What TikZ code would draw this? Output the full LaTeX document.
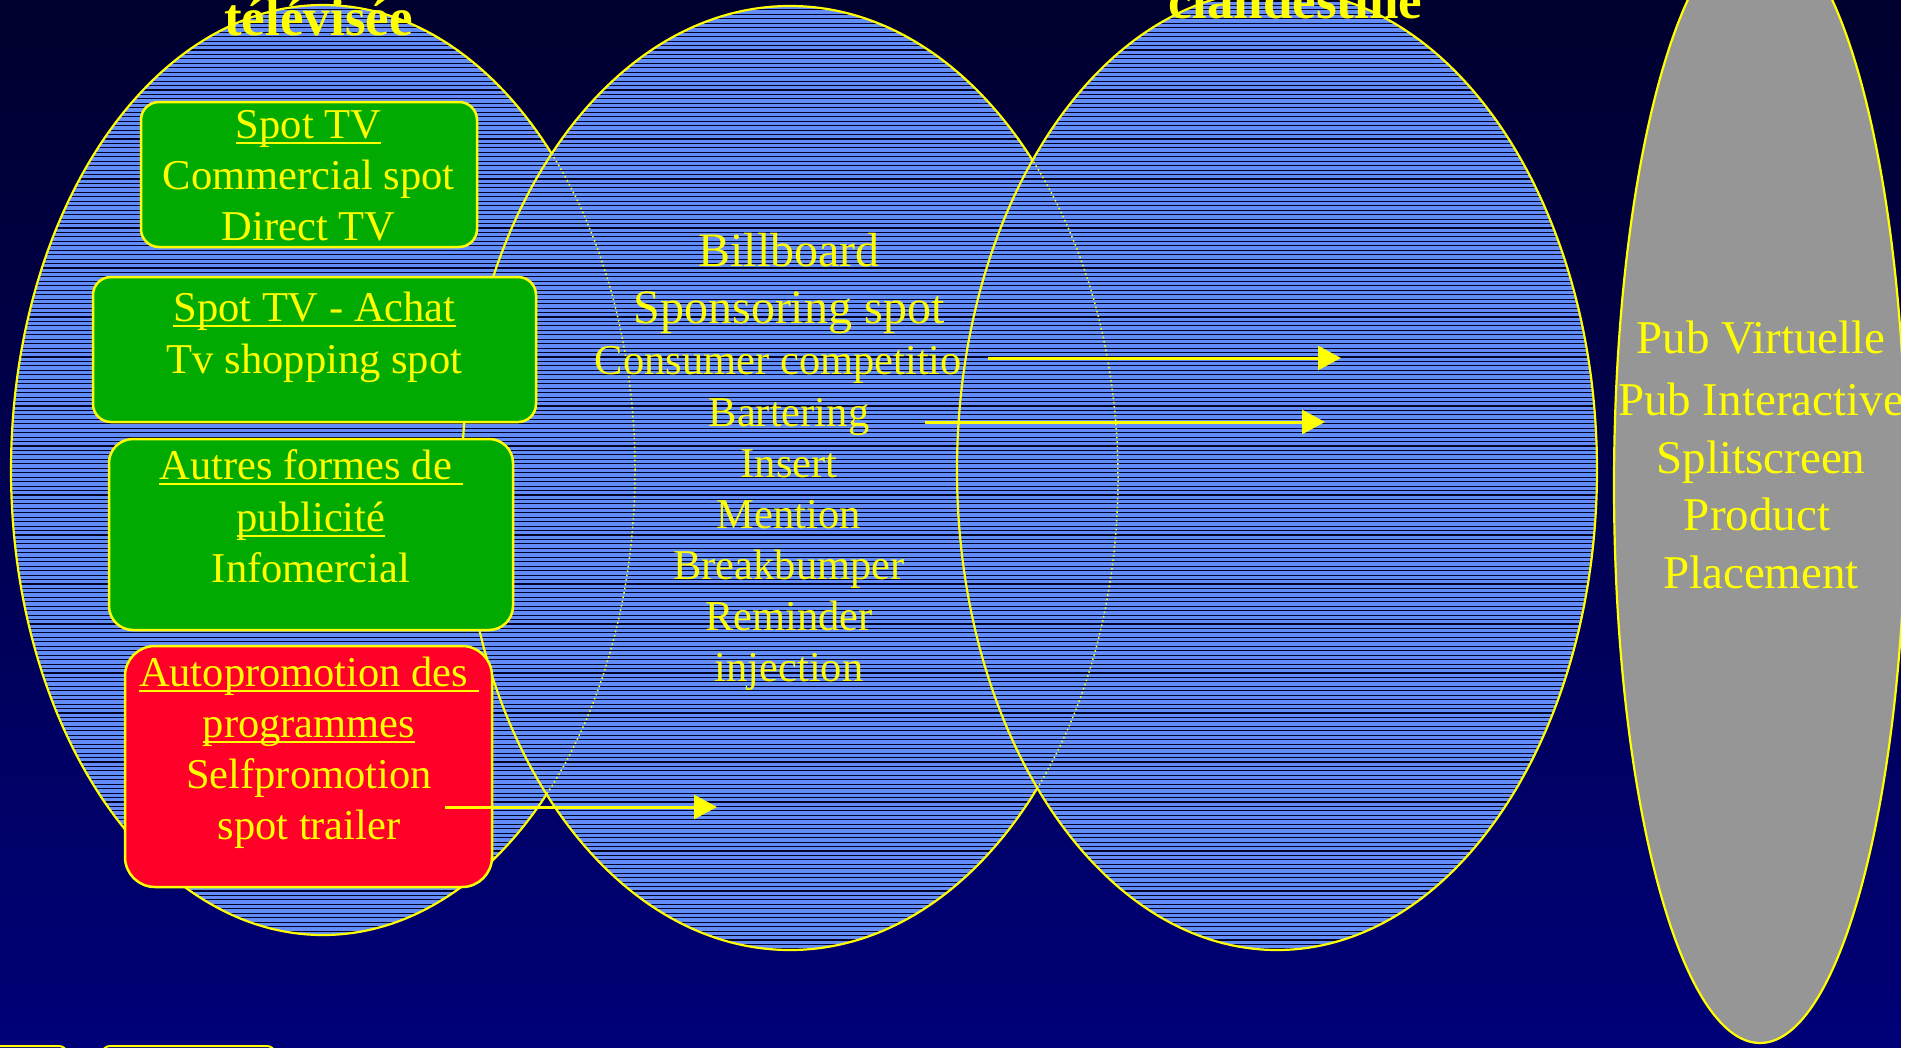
\documentclass[tikz,border=0pt]{standalone}
\usepackage{fontspec}
\setmainfont{Liberation Serif}
\usetikzlibrary{arrows.meta}
\definecolor{bgtop}{RGB}{0,0,46}
\definecolor{bgbot}{RGB}{0,0,120}
\definecolor{hblue}{RGB}{98,140,250}
\definecolor{hline}{RGB}{0,0,40}
\definecolor{ylw}{RGB}{255,255,0}
\definecolor{bgreen}{RGB}{0,170,0}
\definecolor{bred}{RGB}{255,0,40}
\definecolor{pgray}{RGB}{150,150,150}

\newcommand\ulx[1]{\setbox0=\hbox{#1}\rlap{\rule[-5.5pt]{\wd0}{2pt}}\box0}

\newcommand\hatchfill[4]{%
  \fill[hblue] (#1,#2) ellipse [x radius=#3pt, y radius=#4pt];
  \begin{scope}
    \clip (#1,#2) ellipse [x radius=#3pt, y radius=#4pt];
    \foreach \k in {0,...,235} {\draw[hl] ({#1-#3},{\k*4.45+1}) -- ({#1+#3},{\k*4.45+1});}
  \end{scope}}

\tikzset{
  outl/.style={draw=ylw, line width=2.2pt},
  dotl/.style={draw=ylw, line width=1.5pt, dash pattern=on 1.6pt off 2.8pt},
  hl/.style={draw=hline, line width=1.1pt},
  greenbox/.style={rectangle, draw=ylw, line width=2.5pt, fill=bgreen, inner sep=0pt},
  redbox/.style={greenbox, fill=bred},
  sliver/.style={rectangle, draw=ylw, line width=2pt, rounded corners=8pt, inner sep=0pt},
  txt/.style={text=ylw, inner sep=0pt, anchor=base, font=\fontsize{42.5}{51}\selectfont},
  bigtxt/.style={txt, font=\fontsize{48}{57}\selectfont},
  gtxt/.style={txt, font=\fontsize{47}{57}\selectfont},
  ttl/.style={txt, font=\fontsize{53}{60}\selectfont\bfseries},
  arr/.style={draw=ylw, line width=3pt, -{Triangle[length=23pt,width=24pt]}},
}

\begin{document}
\begin{tikzpicture}[x=1pt,y=-1pt]
\useasboundingbox (0,0) rectangle (1914,1047);
\shade[top color=bgtop, bottom color=bgbot] (0,0) rectangle (1914,1047);

% ellipse 1
\hatchfill{323}{470}{312}{465}
\draw[outl] (323,470) ellipse [x radius=312pt, y radius=465pt];
% ellipse 2
\hatchfill{790}{478}{328}{472}
\begin{scope}
  \clip (790,478) ellipse [x radius=328pt, y radius=472pt];
  \draw[dotl] (323,470) ellipse [x radius=312pt, y radius=465pt];
\end{scope}
\draw[outl] (790,478) ellipse [x radius=328pt, y radius=472pt];
% ellipse 3
\hatchfill{1277}{470}{320}{480}
\begin{scope}
  \clip (1277,470) ellipse [x radius=320pt, y radius=480pt];
  \draw[dotl] (790,478) ellipse [x radius=328pt, y radius=472pt];
\end{scope}
\draw[outl] (1277,470) ellipse [x radius=320pt, y radius=480pt];
% gray ellipse
\filldraw[fill=pgray, outl] (1760,485) ellipse [x radius=146pt, y radius=558pt];

% boxes
\node[greenbox, rounded corners=18pt, minimum width=336pt, minimum height=145pt] (boxA) at (309,174.5) {};
\node[greenbox, rounded corners=18pt, minimum width=443pt, minimum height=145pt] (boxB) at (314.5,349.5) {};
\node[greenbox, rounded corners=24pt, minimum width=404pt, minimum height=191pt] (boxC) at (311,534.5) {};
\node[redbox, rounded corners=30pt, minimum width=367pt, minimum height=241pt] (boxD) at (308.5,766.5) {};

\node[txt] (a1) at (308.5,138) {\ulx{Spot TV}};
\node[txt] (a2) at (308.5,189) {Commercial spot};
\node[txt] (a3) at (308.5,240) {Direct TV};

\node[txt] (b1) at (314.5,321) {\ulx{Spot TV - Achat}};
\node[txt] (b2) at (314.5,373) {Tv shopping spot};

\node[txt] (c1) at (311,479) {\ulx{Autres formes de\ }};
\node[txt] (c2) at (311,531) {\ulx{publicité}};
\node[txt] (c3) at (311,582) {Infomercial};

\node[txt] (d1) at (309,686) {\ulx{Autopromotion des\ }};
\node[txt] (d2) at (309,737) {\ulx{programmes}};
\node[txt] (d3) at (309,788) {Selfpromotion};
\node[txt] (d4) at (309,839) {spot trailer};

% centre column
\node[bigtxt] (m1) at (789,266) {Billboard};
\node[bigtxt] (m2) at (789,323) {Sponsoring spot};
\node[txt] (m3) at (789,374) {Consumer competitio\phantom{n}};
\node[txt] (m4) at (789,426) {Bartering};
\node[txt] (m5) at (789,477) {Insert};
\node[txt] (m6) at (789,528) {Mention};
\node[txt] (m7) at (789,579) {Breakbumper};
\node[txt] (m8) at (789,630) {Reminder};
\node[txt] (m9) at (789,681) {injection};

% gray ellipse text
\node[gtxt] (g1) at (1761,353) {Pub\ Virtuelle};
\node[gtxt] (g2) at (1761,415) {Pub Interactive};
\node[gtxt] (g3) at (1761,473) {Splitscreen};
\node[gtxt] (g4) at (1757,530) {Product};
\node[gtxt] (g5) at (1761,588) {Placement};

% arrows
\coordinate (c1s) at (988,358);  \coordinate (c1e) at (1341,358);
\coordinate (c2s) at (925,422);  \coordinate (c2e) at (1325,422);
\coordinate (c3s) at (445,807);  \coordinate (c3e) at (717,807);
\draw[arr] (c1s) -- (c1e);
\draw[arr] (c2s) -- (c2e);
\draw[arr] (c3s) -- (c3e);

% titles
\node[ttl] (t1) at (318.5,35) {télévisée};
\node[ttl] (t2) at (1295.5,18) {clandestine};

% bottom slivers
\node[sliver, minimum width=120pt, minimum height=60pt] (s1) at (7,1076) {};
\node[sliver, minimum width=173pt, minimum height=60pt] (s2) at (188.5,1076) {};

% right white strip
\fill[white] (1901,-5) rectangle (1920,1052);
\end{tikzpicture}
\end{document}
